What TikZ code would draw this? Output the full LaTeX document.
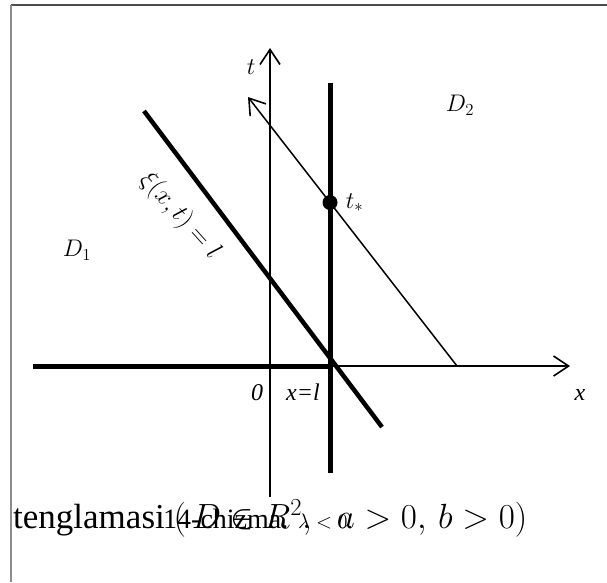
\documentclass[tikz,border=0pt]{standalone}
\usepackage{fix-cm}
\usepackage{fontspec}
\setmainfont{Liberation Serif}
\usetikzlibrary{arrows.meta,positioning}

\begin{document}
\begin{tikzpicture}[
    x=1pt, y=-1pt,
    axisline/.style={line width=1.5pt},
    heavy/.style={line width=5pt},
    tip/.style={-{Straight Barb[length=15pt,width=20pt,line width=1.6pt]}},
    dot/.style={circle, fill, inner sep=0pt, minimum size=15pt},
    lbl/.style={inner sep=0pt, font=\fontsize{24}{28}\selectfont},
    frame/.style={line width=1.6pt}
]
\useasboundingbox (0,0) rectangle (607,582);

% Frame
\draw[frame, black!70] (11,5) -- (607,5);
\draw[frame, black!45] (11,5) -- (11,582);

% Points
\coordinate (xl) at (33,366);
\coordinate (l) at (330,366);
\coordinate (xr) at (570,366);
\coordinate (tb) at (270,497);
\coordinate (tt) at (270,48);
\coordinate (lb) at (330,473);
\coordinate (lt) at (330,83);
\coordinate (cb) at (457,366);
\coordinate (ct) at (248,97);
\coordinate (xit) at (144,111);
\coordinate (xib) at (382,427);

% Axes
\draw[axisline, tip] (xl) -- (xr);
\draw[heavy] (xl) -- (l);
\draw[axisline, tip] (tb) -- (tt);
\draw[heavy] (lb) -- (lt);

% Lines
\draw[line width=4.5pt] (xit) -- (xib);
\draw[axisline, tip] (cb) -- (ct);
\node[dot] (tstar) at (330,202.5) {};

% Labels
\node[lbl, right=8pt of tstar] (tstarlbl) {$t_*$};
\node[lbl] (tlbl) at (251,67) {$t$};
\node[lbl, anchor=base] (zero) at (257,400) {\itshape 0};
\node[lbl, anchor=base] (xeql) at (303,400) {\itshape x=l};
\node[lbl, anchor=base] (xlbl) at (580,400) {\itshape x};
\node[lbl] (d1) at (77,250) {$D_1$};
\node[lbl] (d2) at (460,105) {$D_2$};
\node[lbl, font=\fontsize{26}{30}\selectfont, rotate=-48] (xilbl) at (180,216) {$\xi(x,t)=l$};

% Caption
\node[anchor=base west, inner sep=0pt, font=\fontsize{35}{42}\selectfont] (eq) at (13,528) {tenglamasi $(\,D\in R^2,\;\;a>0,\,b>0)$};
\node[anchor=base west, inner sep=0pt, font=\fontsize{28}{32}\selectfont] (cap) at (163,528) {14-chizma.};
\node[anchor=base west, inner sep=0pt, font=\fontsize{21}{25}\selectfont] (lam) at (298,528) {$\lambda<0$.};

\end{tikzpicture}
\end{document}
